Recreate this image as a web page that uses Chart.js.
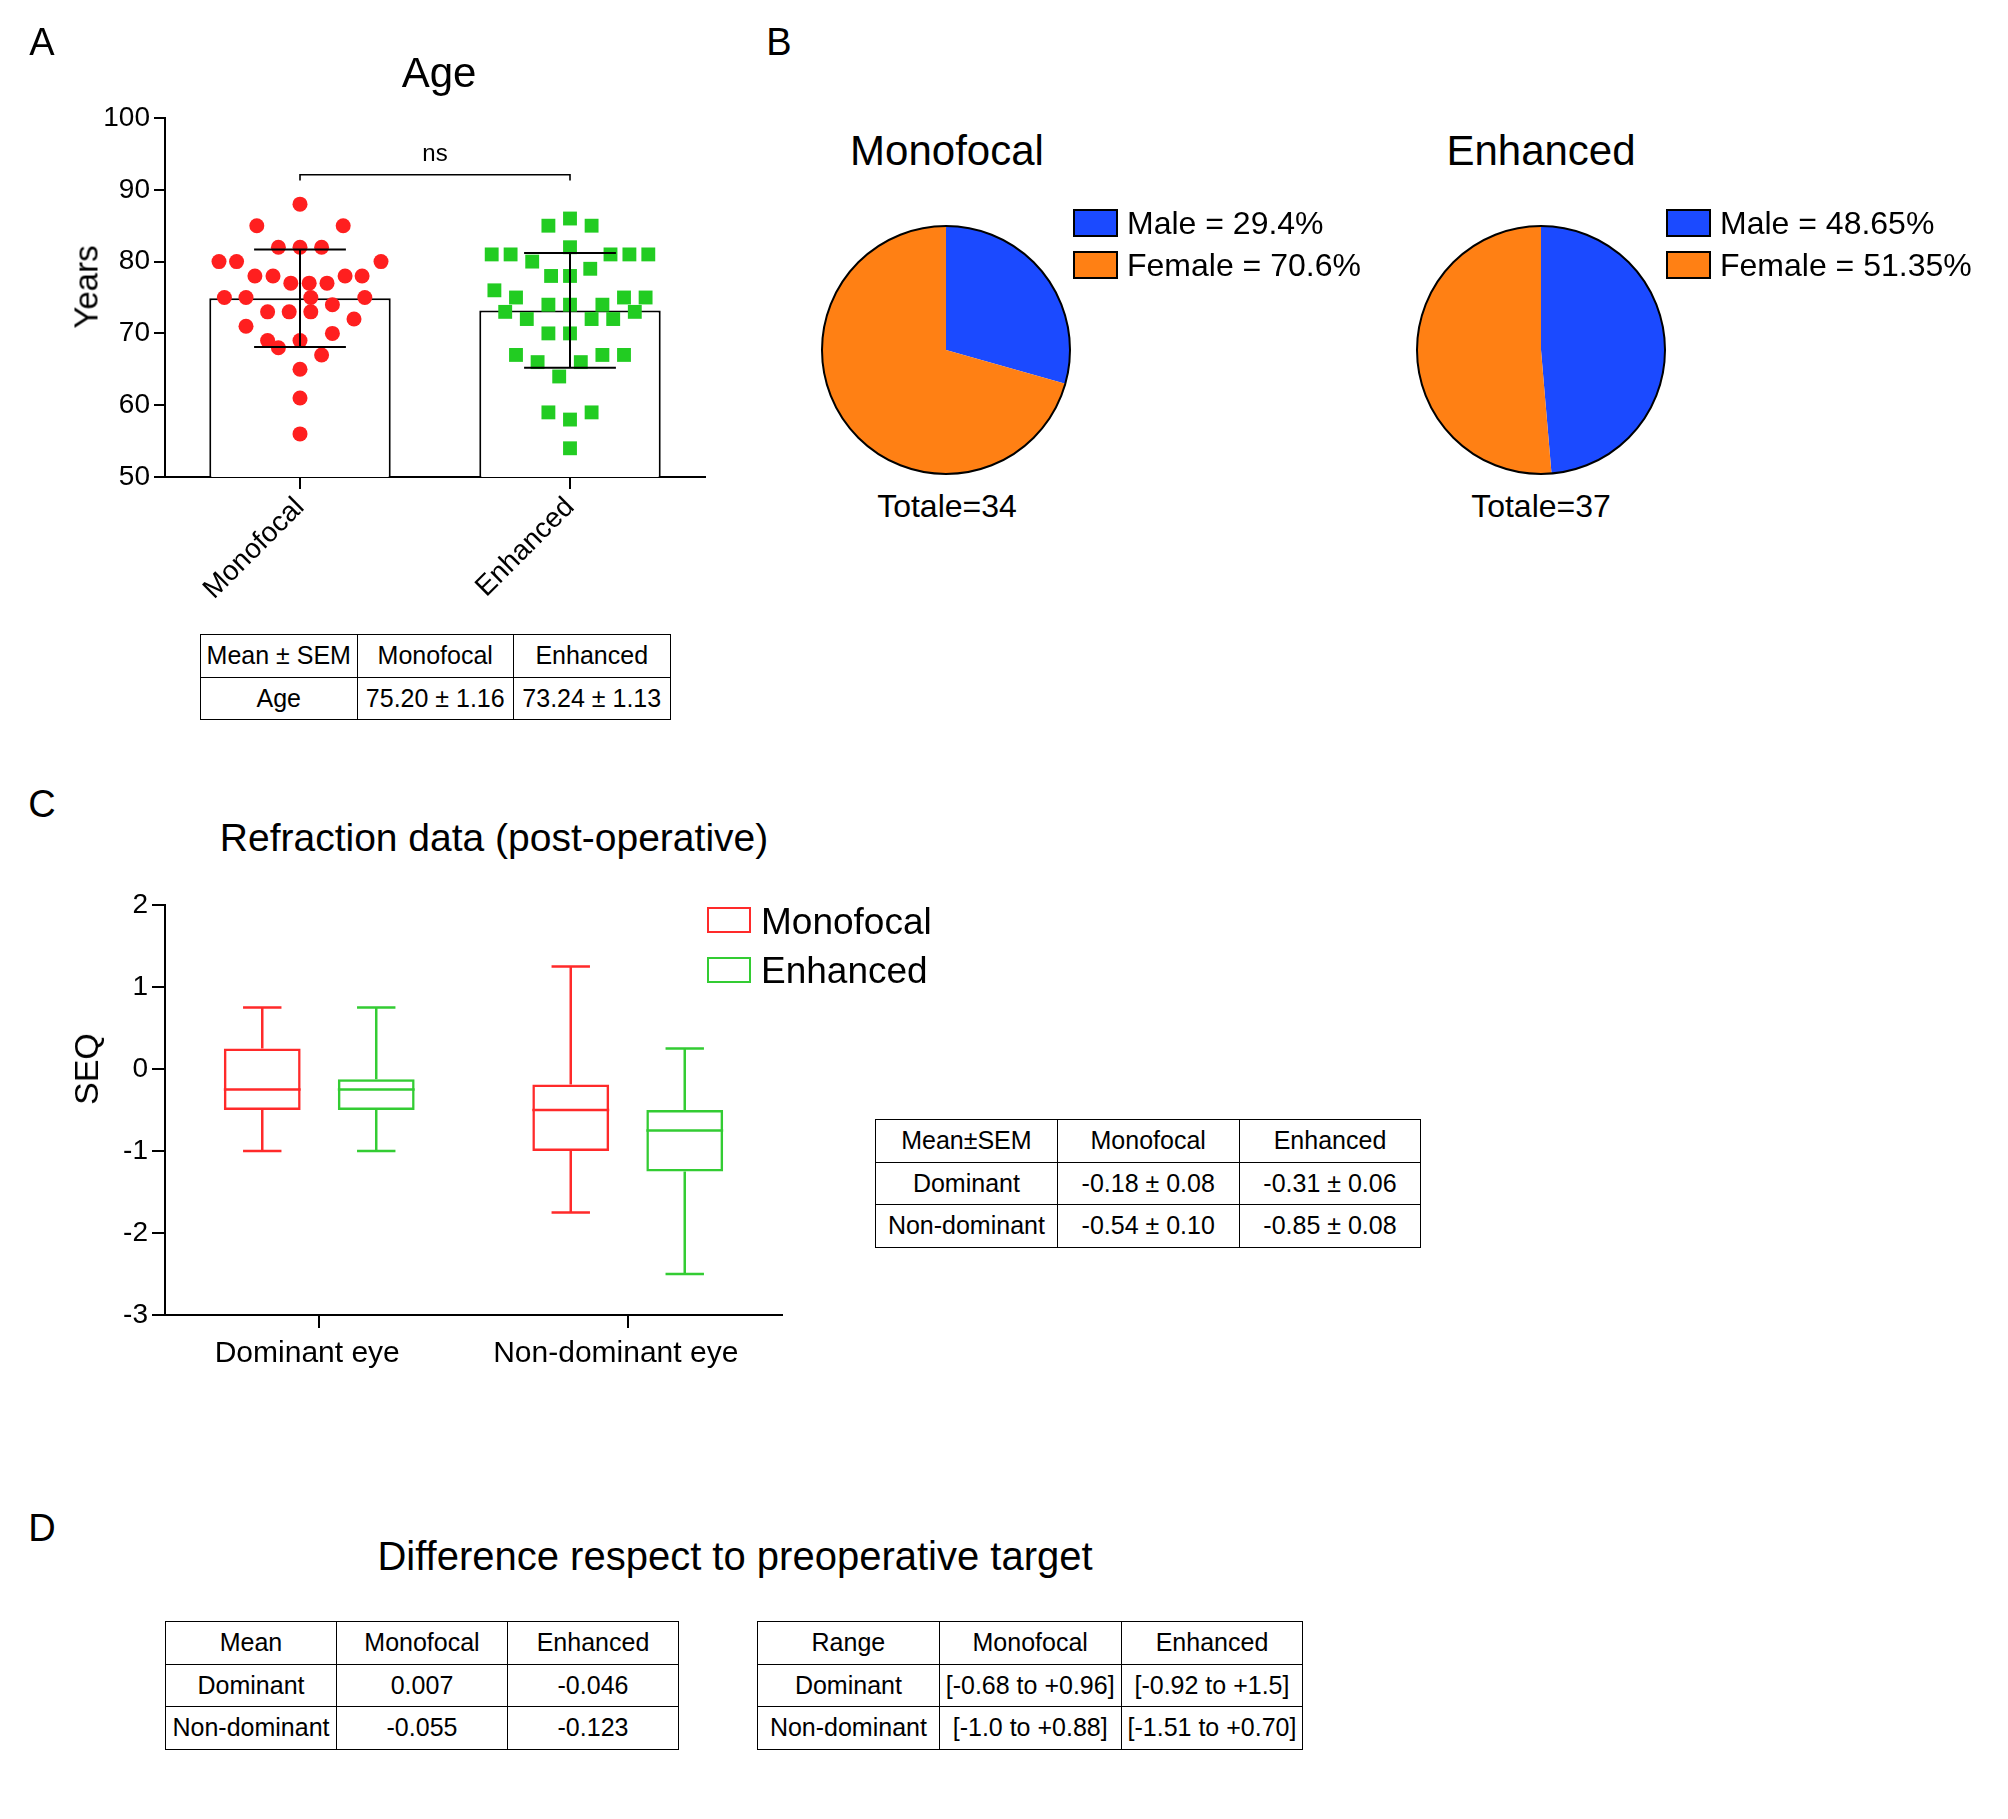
<!DOCTYPE html>
<html><head><meta charset="utf-8">
<script src="https://cdn.jsdelivr.net/npm/chart.js@4.4.1/dist/chart.umd.min.js"></script>
<style>
body{margin:0;background:#fff;}
#page{position:relative;width:2008px;height:1819px;overflow:hidden;background:#fff;font-family:'Liberation Sans',Arial,sans-serif;color:#000;}
.t{position:absolute;white-space:nowrap;line-height:1;transform:translate(-50%,-50%);}
.l{position:absolute;white-space:nowrap;line-height:1;transform:translate(0,-50%);}
.r{position:absolute;white-space:nowrap;line-height:1;transform:translate(-50%,-50%) rotate(-90deg);}
.box{position:absolute;box-sizing:border-box;}
canvas{position:absolute;}
table{position:absolute;border-collapse:collapse;table-layout:fixed;font-size:25px;}
td{border:1.5px solid #000;text-align:center;padding:0;white-space:nowrap;overflow:hidden;}
</style></head>
<body><div id="page">
<canvas id="cA" width="760" height="620" style="left:0px;top:0px"></canvas>
<canvas id="cP1" width="260" height="260" style="left:816px;top:220px"></canvas>
<canvas id="cP2" width="260" height="260" style="left:1411px;top:220px"></canvas>
<canvas id="cC" width="860" height="540" style="left:0px;top:860px"></canvas>
</div>
<script>
// ---------- DATA ----------
// Panel A: age
const groupsA = ['Monofocal', 'Enhanced'];
const ageMean = [74.9, 73.2];
const ageSdLow = [68.1, 65.2];
const ageSdHigh = [81.7, 81.2];
const monoAge = [88, 85,85, 82,82,82, 80,80,80, 78,78,78,78, 77,77,77, 75,75,75,75, 74, 73,73,73, 72, 71, 70, 69,69, 68, 67, 65, 61, 56];
const monoJitter = [0, -0.16,0.16, -0.08,0,0.08, -0.30,-0.235,0.30, -0.167,-0.10,0.167,0.23, -0.034,0.034,0.10, -0.28,-0.20,0.04,0.24, 0.12, -0.12,-0.04,0.04, 0.20, -0.20, 0.12, -0.12,0, -0.08, 0.08, 0, 0, 0];
const enhAge = [86, 85,85, 82, 81,81,81,81,81, 80, 79, 78,78, 76, 75,75,75, 74,74,74, 73,73, 72,72,72, 70,70, 67,67,67, 66,66, 64, 59,59, 58, 54];
const enhJitter = [0, -0.08,0.08, 0, -0.29,-0.22,0.15,0.22,0.29, -0.14, 0.075, -0.07,0, -0.28, -0.2,0.2,0.28, -0.08,0,0.12, -0.24,0.24, -0.16,0.08,0.16, -0.08,0, -0.2,0.12,0.2, -0.12,0.04, -0.04, -0.08,0.08, 0, 0];
const ageSigLabel = 'ns';
const ageTable = [['Mean \u00b1 SEM','Monofocal','Enhanced'],['Age','75.20 \u00b1 1.16','73.24 \u00b1 1.13']];

// Panel B: sex
const sexLabels = ['Male', 'Female'];
const monoSex = [29.4, 70.6];
const enhSex = [48.65, 51.35];
const monoTotal = 34;
const enhTotal = 37;

// Panel C: refraction (box plots)
const eyeCats = ['Dominant eye', 'Non-dominant eye'];
const monoMin = [-1, -1.75];
const monoQ1 = [-0.5, -1];
const monoMed = [-0.25, -0.5];
const monoQ3 = [0.25, -0.19];
const monoMax = [0.75, 1.25];
const enhMin = [-1, -2.5];
const enhQ1 = [-0.5, -1.25];
const enhMed = [-0.25, -0.75];
const enhQ3 = [-0.125, -0.5];
const enhMax = [0.75, 0.25];
const refrTable = [['Mean\u00b1SEM','Monofocal','Enhanced'],['Dominant','-0.18 \u00b1 0.08','-0.31 \u00b1 0.06'],['Non-dominant','-0.54 \u00b1 0.10','-0.85 \u00b1 0.08']];

// Panel D tables
const diffMeanTable = [['Mean','Monofocal','Enhanced'],['Dominant','0.007','-0.046'],['Non-dominant','-0.055','-0.123']];
const diffRangeTable = [['Range','Monofocal','Enhanced'],['Dominant','[-0.68 to +0.96]','[-0.92 to +1.5]'],['Non-dominant','[-1.0 to +0.88]','[-1.51 to +0.70]']];

// ---------- STYLE ----------
const RED = '#ff1f1f', GREEN = '#22cc22', BOXRED = '#ff2a2a', BOXGREEN = '#33cc33';
const BLUE = '#1b4aff', ORANGE = '#ff8014';
Chart.defaults.font.family = "'Liberation Sans', Arial, sans-serif";
Chart.defaults.color = '#000';

const page = document.getElementById('page');
function addText(cls, s, x, y, size, extra) {
  const d = document.createElement('div');
  d.className = cls; d.textContent = s;
  d.style.left = x + 'px'; d.style.top = y + 'px'; d.style.fontSize = size + 'px';
  if (extra) Object.assign(d.style, extra);
  page.appendChild(d); return d;
}
function addBox(x, y, w, h, fill, border, bw) {
  const d = document.createElement('div'); d.className = 'box';
  Object.assign(d.style, {left:x+'px', top:y+'px', width:w+'px', height:h+'px', background:fill, border: bw+'px solid '+border});
  page.appendChild(d);
}
function addTable(rows, x, y, colW, rowH) {
  const t = document.createElement('table');
  t.style.left = x + 'px'; t.style.top = y + 'px'; t.style.width = (colW*rows[0].length) + 'px';
  rows.forEach(r => {
    const tr = document.createElement('tr');
    r.forEach(c => { const td = document.createElement('td'); td.textContent = c; td.style.width = colW+'px'; td.style.height = rowH+'px'; tr.appendChild(td); });
    t.appendChild(tr);
  });
  page.appendChild(t);
}

// Panel letters & titles
addText('t','A',42,42,38); addText('t','B',779,42,38); addText('t','C',42,804,38); addText('t','D',42,1528,38);
addText('t','Age',439,73,42);
addText('r','Years',86,287,33);
addText('t','Monofocal',947,151,42);
addText('t','Enhanced',1541,151,42);
addText('t','Totale=' + monoTotal,947,506,32);
addText('t','Totale=' + enhTotal,1541,506,32);
addText('t','Refraction data (post-operative)',494,837,39);
addText('r','SEQ',86,1069,34);
addText('t','Difference respect to preoperative target',735,1556,40);

// Pie legends
[[1073, monoSex],[1666, enhSex]].forEach(([lx, vals]) => {
  sexLabels.forEach((lab, i) => {
    const cy = i === 0 ? 223 : 265;
    addBox(lx, cy-14, 45, 28, i === 0 ? BLUE : ORANGE, '#000', 2);
    addText('l', lab + ' = ' + vals[i] + '%', lx + 54, cy, 32);
  });
});
// Panel C legend
addBox(707, 907, 44, 26, 'transparent', BOXRED, 2.5);
addText('l','Monofocal',761,921,37);
addBox(707, 957, 44, 26, 'transparent', BOXGREEN, 2.5);
addText('l','Enhanced',761,970,37);

// Tables
addTable(ageTable, 200, 634, 155.5, 41.5);
addTable(refrTable, 875, 1119, 180.8, 41.6);
addTable(diffMeanTable, 165, 1621, 170, 41.6);
addTable(diffRangeTable, 757, 1621, 180.8, 41.6);

// ---------- PANEL A ----------
const capHalf = 0.17;
const errPlugin = {id:'errA', afterDatasetsDraw(chart) {
  const {ctx, scales:{x, y}} = chart;
  ctx.save(); ctx.strokeStyle = '#000'; ctx.lineWidth = 2;
  groupsA.forEach((g, i) => {
    const cx = x.getPixelForValue(i+1);
    const hw = x.getPixelForValue(i+1+capHalf) - cx;
    const yl = y.getPixelForValue(ageSdLow[i]), yh = y.getPixelForValue(ageSdHigh[i]);
    ctx.beginPath();
    ctx.moveTo(cx, yl); ctx.lineTo(cx, yh);
    ctx.moveTo(cx-hw, yl); ctx.lineTo(cx+hw, yl);
    ctx.moveTo(cx-hw, yh); ctx.lineTo(cx+hw, yh);
    ctx.stroke();
  });
  const x1 = x.getPixelForValue(1), x2 = x.getPixelForValue(2);
  const yb = y.getPixelForValue(92.1), yleg = y.getPixelForValue(91.3);
  ctx.lineWidth = 1.6;
  ctx.beginPath(); ctx.moveTo(x1, yleg); ctx.lineTo(x1, yb); ctx.lineTo(x2, yb); ctx.lineTo(x2, yleg); ctx.stroke();
  ctx.fillStyle = '#000'; ctx.font = "24px 'Liberation Sans', Arial, sans-serif";
  ctx.textAlign = 'center'; ctx.textBaseline = 'middle';
  ctx.fillText(ageSigLabel, (x1+x2)/2, y.getPixelForValue(94.9));
  ctx.restore();
}};

new Chart(document.getElementById('cA'), {
  type: 'bar',
  data: {
    datasets: [
      {type:'bar', label:'Mean', data: groupsA.map((g,i)=>({x:i+1, y:ageMean[i]})), backgroundColor:'#fff', borderColor:'#000', borderWidth:2, borderSkipped:false, barPercentage:0.672, categoryPercentage:1, order:3},
      {type:'scatter', label:groupsA[0], data: monoAge.map((v,i)=>({x:1+monoJitter[i], y:v})), pointStyle:'circle', pointRadius:7.5, backgroundColor:RED, borderWidth:0, order:1},
      {type:'scatter', label:groupsA[1], data: enhAge.map((v,i)=>({x:2+enhJitter[i], y:v})), pointStyle:'rect', pointRadius:9.8, backgroundColor:GREEN, borderWidth:0, order:1}
    ]
  },
  options: {
    responsive:false, animation:false, devicePixelRatio:1,
    layout:{padding:{left:0, right:55, top:118, bottom:0}},
    plugins:{legend:{display:false}, tooltip:{enabled:false}},
    scales:{
      x:{type:'linear', min:0.5, max:2.5, offset:false,
        afterBuildTicks: s => { s.ticks = [{value:1},{value:2}]; },
        afterFit: s => { s.height = 143; },
        ticks:{callback:(v)=>groupsA[Math.round(v)-1], minRotation:45, maxRotation:45, autoSkip:false, color:'#000', font:{size:28}, padding:2},
        grid:{drawOnChartArea:false, offset:false, color:'#000', lineWidth:2, tickLength:12},
        border:{color:'#000', width:2}},
      y:{min:50, max:100, afterFit: s => { s.width = 165; },
        ticks:{stepSize:10, color:'#000', font:{size:28}, padding:4},
        grid:{drawOnChartArea:false, color:'#000', lineWidth:2, tickLength:11},
        border:{color:'#000', width:2}}
    }
  },
  plugins:[errPlugin]
});

// ---------- PANEL B ----------
const outline = {id:'outline', afterDatasetsDraw(chart) {
  const arc = chart.getDatasetMeta(0).data[0];
  const ctx = chart.ctx; ctx.save(); ctx.strokeStyle = '#000'; ctx.lineWidth = 2;
  ctx.beginPath(); ctx.arc(arc.x, arc.y, arc.outerRadius, 0, Math.PI*2); ctx.stroke(); ctx.restore();
}};
function makePie(id, vals) {
  new Chart(document.getElementById(id), {
    type:'pie',
    data:{labels:sexLabels, datasets:[{data:vals, backgroundColor:[BLUE, ORANGE], borderWidth:0}]},
    options:{responsive:false, animation:false, devicePixelRatio:1, layout:{padding:6},
      plugins:{legend:{display:false}, tooltip:{enabled:false}}},
    plugins:[outline]
  });
}
makePie('cP1', monoSex);
makePie('cP2', enhSex);

// ---------- PANEL C ----------
const boxStats = [
  {min:monoMin, q1:monoQ1, med:monoMed, q3:monoQ3, max:monoMax, color:BOXRED},
  {min:enhMin, q1:enhQ1, med:enhMed, q3:enhQ3, max:enhMax, color:BOXGREEN}
];
const whiskers = {id:'whiskers', afterDatasetsDraw(chart) {
  const {ctx, scales:{y}} = chart;
  ctx.save(); ctx.lineWidth = 2.5;
  boxStats.forEach((st, d) => {
    const meta = chart.getDatasetMeta(d);
    ctx.strokeStyle = st.color;
    meta.data.forEach((bar, i) => {
      const cx = bar.x, hw = bar.width/2, cw = bar.width/4;
      const pMed = y.getPixelForValue(st.med[i]);
      const pMin = y.getPixelForValue(st.min[i]), pMax = y.getPixelForValue(st.max[i]);
      const pQ1 = y.getPixelForValue(st.q1[i]), pQ3 = y.getPixelForValue(st.q3[i]);
      ctx.beginPath();
      ctx.moveTo(cx-hw, pMed); ctx.lineTo(cx+hw, pMed);
      ctx.moveTo(cx, pQ3); ctx.lineTo(cx, pMax);
      ctx.moveTo(cx-cw, pMax); ctx.lineTo(cx+cw, pMax);
      ctx.moveTo(cx, pQ1); ctx.lineTo(cx, pMin);
      ctx.moveTo(cx-cw, pMin); ctx.lineTo(cx+cw, pMin);
      ctx.stroke();
    });
  });
  ctx.restore();
}};
new Chart(document.getElementById('cC'), {
  type:'bar',
  data:{labels:eyeCats, datasets:[
    {label:'Monofocal', data: eyeCats.map((c,i)=>[monoQ1[i], monoQ3[i]]), backgroundColor:'rgba(0,0,0,0)', borderColor:BOXRED, borderWidth:2.5, borderSkipped:false, categoryPercentage:0.739, barPercentage:0.674},
    {label:'Enhanced', data: eyeCats.map((c,i)=>[enhQ1[i], enhQ3[i]]), backgroundColor:'rgba(0,0,0,0)', borderColor:BOXGREEN, borderWidth:2.5, borderSkipped:false, categoryPercentage:0.739, barPercentage:0.674}
  ]},
  options:{
    responsive:false, animation:false, devicePixelRatio:1,
    layout:{padding:{left:0, right:78, top:45, bottom:0}},
    plugins:{legend:{display:false}, tooltip:{enabled:false}},
    scales:{
      x:{offset:true, afterFit: s => { s.height = 85; },
        ticks:{color:'#000', font:{size:30}, labelOffset:-12, padding:8},
        grid:{drawOnChartArea:false, offset:false, color:'#000', lineWidth:2, tickLength:13},
        border:{color:'#000', width:2}},
      y:{min:-3, max:2, afterFit: s => { s.width = 165; },
        ticks:{stepSize:1, color:'#000', font:{size:28}, padding:4},
        grid:{drawOnChartArea:false, color:'#000', lineWidth:2, tickLength:13},
        border:{color:'#000', width:2}}
    }
  },
  plugins:[whiskers]
});
</script>
</body></html>
